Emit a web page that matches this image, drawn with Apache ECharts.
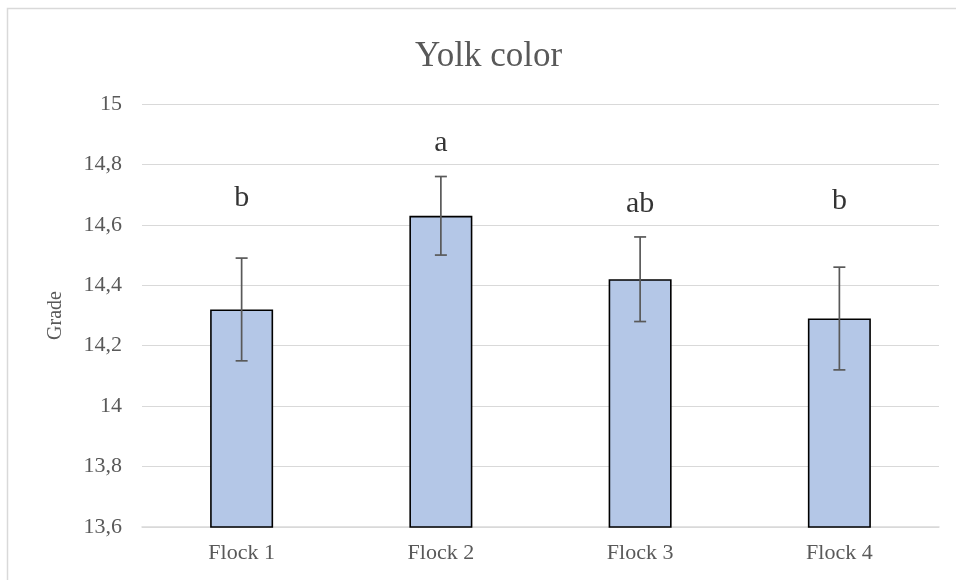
<!DOCTYPE html>
<html>
<head>
<meta charset="utf-8">
<script src="https://cdn.jsdelivr.net/npm/echarts@6/dist/echarts.min.js"></script>
<style>
  html, body { margin: 0; padding: 0; background: #fff; }
  #chart { width: 956px; height: 580px; }
</style>
</head>
<body>
<div id="chart"></div>
<script>
// Yolk colour grade per flock, with standard-error bars and significance letters
const categories = ['Flock 1', 'Flock 2', 'Flock 3', 'Flock 4'];
const meanGrade = [14.32, 14.63, 14.42, 14.29];
const gradeError = [0.17, 0.13, 0.14, 0.17];
const groupLetters = ['b', 'a', 'ab', 'b'];
const letterLevel = [14.69, 14.87, 14.67, 14.68];
const yTicks = { min: 13.6, max: 15, step: 0.2 };

const serif = '"Liberation Serif", "Times New Roman", serif';
const labelGrey = '#595959';
const gridGrey = '#d9d9d9';

const chart = echarts.init(document.getElementById('chart'), null, { renderer: 'canvas' });

const option = {
  backgroundColor: '#ffffff',
  animation: false,
  title: {
    text: 'Yolk color',
    left: 410,
    top: 34,
    textStyle: { fontFamily: serif, fontSize: 35, fontWeight: 'normal', color: labelGrey }
  },
  graphic: [{
    type: 'rect',
    shape: { x: 7.5, y: 8.5, width: 2000, height: 2000 },
    style: { fill: 'none', stroke: gridGrey, lineWidth: 1.5 },
    silent: true
  }],
  grid: { left: 142, right: 17, top: 104, bottom: 53 },
  xAxis: {
    type: 'category',
    data: categories,
    axisTick: { show: false },
    axisLine: { lineStyle: { color: gridGrey, width: 1.5 } },
    axisLabel: { fontFamily: serif, fontSize: 22, color: labelGrey, margin: 15 }
  },
  yAxis: {
    type: 'value',
    min: yTicks.min,
    max: yTicks.max,
    interval: yTicks.step,
    name: 'Grade',
    nameLocation: 'middle',
    nameGap: 76,
    nameRotate: 90,
    nameTextStyle: { fontFamily: serif, fontSize: 20, color: labelGrey },
    axisLine: { show: false },
    axisTick: { show: false },
    splitLine: { lineStyle: { color: gridGrey, width: 1.2 } },
    axisLabel: {
      fontFamily: serif, fontSize: 22, color: labelGrey, margin: 20,
      formatter: v => String(Number(v.toFixed(1))).replace('.', ',')
    }
  },
  series: [
    {
      type: 'bar',
      data: meanGrade,
      barWidth: 63,
      itemStyle: { color: '#b4c7e7', borderColor: '#000000', borderWidth: 1.6 },
      z: 2
    },
    {
      type: 'custom',
      data: meanGrade.map((m, i) => [i, m - gradeError[i], m + gradeError[i]]),
      z: 3,
      renderItem: (params, api) => {
        const lo = api.coord([api.value(0), api.value(1)]);
        const hi = api.coord([api.value(0), api.value(2)]);
        const half = 6;
        const style = { stroke: labelGrey, lineWidth: 1.7 };
        return {
          type: 'group',
          children: [
            { type: 'line', shape: { x1: hi[0], y1: hi[1], x2: lo[0], y2: lo[1] }, style },
            { type: 'line', shape: { x1: hi[0] - half, y1: hi[1], x2: hi[0] + half, y2: hi[1] }, style },
            { type: 'line', shape: { x1: lo[0] - half, y1: lo[1], x2: lo[0] + half, y2: lo[1] }, style }
          ]
        };
      }
    },
    {
      type: 'scatter',
      data: letterLevel.map((y, i) => [i, y]),
      symbolSize: 0,
      z: 4,
      label: {
        show: true,
        position: 'inside',
        formatter: p => groupLetters[p.dataIndex],
        fontFamily: serif,
        fontSize: 30,
        color: '#000000'
      }
    }
  ]
};

chart.setOption(option);
</script>
</body>
</html>
